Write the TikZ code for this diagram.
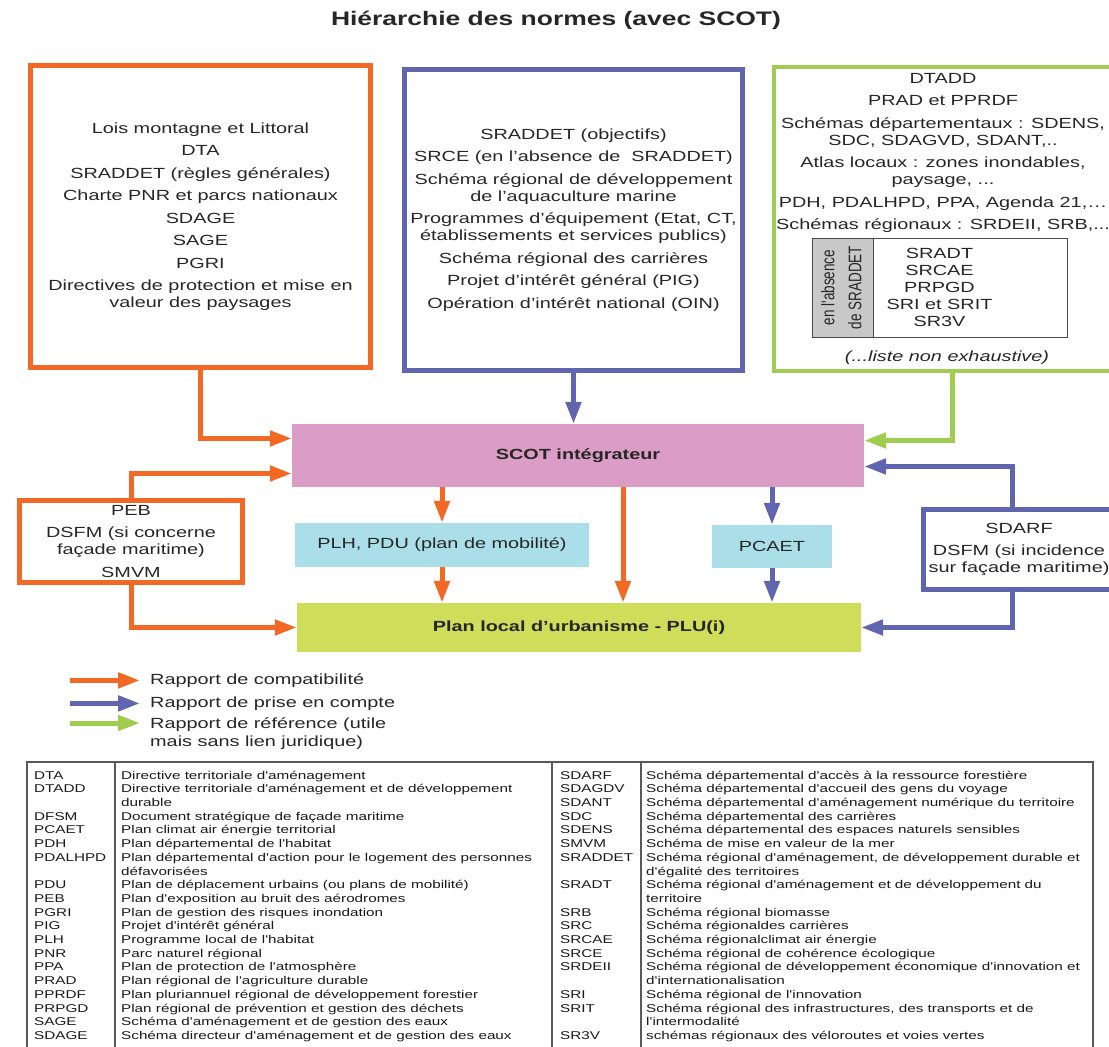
\documentclass[tikz,border=0pt]{standalone}
\usepackage{fontspec}
\setmainfont[FakeStretch=1.35]{Liberation Sans}
\newfontfamily\tabfont[FakeStretch=1.35,Ligatures=TeXOff]{Liberation Sans}
\newfontfamily\rotfont[Ligatures=TeXOff]{Liberation Sans}
\usetikzlibrary{arrows.meta,positioning}

\definecolor{orng}{RGB}{241,105,37}
\definecolor{blu}{RGB}{97,101,176}
\definecolor{grn}{RGB}{160,204,80}
\definecolor{scotpink}{RGB}{219,157,198}
\definecolor{plhblue}{RGB}{170,222,233}
\definecolor{plugreen}{RGB}{206,221,90}
\definecolor{txt}{RGB}{38,38,38}
\definecolor{colgray}{RGB}{200,200,200}

\tikzset{
  boxtext/.style={align=center, text=txt, inner sep=0pt, font=\fontsize{14.7}{17}\selectfont},
  normbox/.style={boxtext, draw=#1, line width=5pt, minimum width=340pt, minimum height=302pt},
  fillbox/.style={boxtext, fill=#1},
  tabtext/.style={inner sep=0pt, text=black!90, font=\tabfont\fontsize{11.3}{13.7}\selectfont},
  cmp/.style={draw=orng, line width=5pt, -{Triangle[length=22pt,width=15pt]}},
  pec/.style={cmp, draw=blu},
  refa/.style={cmp, draw=grn},
  tabline/.style={draw=black!65, line width=1.3pt}
}

\begin{document}
\begin{tikzpicture}[x=1pt,y=-1pt]
  \useasboundingbox (0,0) rectangle (1109,1047);
  \node[text=txt, font=\bfseries\fontsize{19.6}{23}\selectfont] (title) at (556,20) {Hiérarchie des normes (avec SCOT)};

  \node[normbox=orng] (lois) at (200.5,216.5) {Lois montagne et Littoral\\[5.5pt] DTA\\[5.5pt] SRADDET (règles générales)\\[5.5pt] Charte PNR et parcs nationaux\\[5.5pt] SDAGE\\[5.5pt] SAGE\\[5.5pt] PGRI\\[5.5pt] Directives de protection et mise en\\ valeur des paysages};
  \node[normbox=blu, minimum width=338pt, minimum height=301pt] (srce) at (573.5,220) {SRADDET (objectifs)\\[5.5pt] SRCE (en l'absence de~~SRADDET)\\[5.5pt] Schéma régional de développement\\ de l'aquaculture marine\\[5.5pt] Programmes d'équipement (Etat, CT,\\ établissements et services publics)\\[5.5pt] Schéma régional des carrières\\[5.5pt] Projet d'intérêt général (PIG)\\[5.5pt] Opération d'intérêt national (OIN)};
  \node[normbox=grn, line width=4pt, minimum width=341pt, minimum height=304pt] (ref) at (944.5,219) {};
  \node[boxtext, anchor=north] (reflist) at (943,72.7) {DTADD\\[5.5pt] PRAD et PPRDF\\[5.5pt] Schémas départementaux : SDENS,\\ SDC, SDAGVD, SDANT,..\\[5.5pt] Atlas locaux : zones inondables,\\ paysage, ...\\[5.5pt] PDH, PDALHPD, PPA, Agenda 21,\ldots\\[5.5pt] Schémas régionaux : SRDEII, SRB,...};
  \node[boxtext, draw=black!70, line width=1pt, minimum width=255pt, minimum height=99pt] (lst) at (939.5,287.5) {SRADT\\SRCAE\\PRPGD\\SRI et SRIT\\SR3V};
  \node[fill=colgray, draw=black!70, line width=1pt, minimum width=61pt, minimum height=99pt, inner sep=0pt, anchor=north west, text=txt] (abs) at (lst.north west) {\rotatebox{90}{\scalebox{1}[1.35]{\rotfont\fontsize{13.5}{20}\selectfont\begin{tabular}{@{}c@{}}en l'absence\\de SRADDET\end{tabular}}}};
  \node[boxtext, font=\itshape\fontsize{14.7}{17}\selectfont] (nonex) at (947,358) {(...liste non exhaustive)};

  \node[fillbox=scotpink, minimum width=572pt, minimum height=63pt, font=\bfseries\fontsize{14.7}{17}\selectfont] (scot) at (578,455.5) {SCOT intégrateur};
  \node[fillbox=plhblue, minimum width=294pt, minimum height=44pt] (plh) at (442,545) {PLH, PDU (plan de mobilité)};
  \node[fillbox=plhblue, minimum width=120pt, minimum height=43pt] (pcaet) at (772,546.5) {PCAET};
  \node[fillbox=plugreen, minimum width=564pt, minimum height=49pt, font=\bfseries\fontsize{14.7}{17}\selectfont] (plu) at (579,627.5) {Plan local d'urbanisme - PLU(i)};
  \node[normbox=orng, minimum width=223pt, minimum height=82pt] (peb) at (131,541.5) {PEB\\[5.5pt] DSFM (si concerne\\ façade maritime)\\[5.5pt] SMVM};
  \node[normbox=blu, minimum width=191pt, minimum height=80pt] (sdarf) at (1019,549.5) {SDARF\\[5pt] DSFM (si incidence\\ sur façade maritime)};

  \coordinate (mid) at ([xshift=45pt]scot.south);
  \draw[cmp] (lois.south) |- ([yshift=17pt]scot.west);
  \draw[pec] (srce.south) -- (srce.south |- scot.north);
  \draw[refa] ([xshift=8pt]ref.south) |- ([yshift=15pt]scot.east);
  \draw[cmp] (peb.north) |- ([yshift=-18pt]scot.west);
  \draw[cmp] (peb.south) |- (plu.west);
  \draw[pec] ([xshift=-7pt]sdarf.north) |- ([yshift=-11pt]scot.east);
  \draw[pec] ([xshift=-7pt]sdarf.south) |- (plu.east);
  \draw[cmp] (plh.north |- scot.south) -- (plh.north);
  \draw[cmp] (plh.south) -- (plh.south |- plu.north);
  \draw[cmp] (mid) -- (mid |- plu.north);
  \draw[pec] (pcaet.north |- scot.south) -- (pcaet.north);
  \draw[pec] (pcaet.south) -- (pcaet.south |- plu.north);

  \node[boxtext, anchor=west] (leg1) at (150,680.4) {Rapport de compatibilité};
  \node[boxtext, below=23pt of leg1.west, anchor=west] (leg2) {Rapport de prise en compte};
  \node[boxtext, below=37pt of leg1.west, anchor=north west, align=left, font=\fontsize{14.7}{18.5}\selectfont] (leg3) {Rapport de référence (utile\\mais sans lien juridique)};
  \draw[cmp] ([xshift=-80pt]leg1.west) -- ([xshift=-10pt]leg1.west);
  \draw[pec] ([xshift=-80pt]leg2.west) -- ([xshift=-10pt]leg2.west);
  \draw[refa] ([xshift=-80pt,yshift=-5.6pt]leg3.north west) -- ([xshift=-10pt,yshift=-5.6pt]leg3.north west);

  \draw[tabline] (27,762) rectangle (1093,1052);
  \draw[tabline] (115,762) -- (115,1052);
  \draw[tabline] (552,762) -- (552,1052);
  \draw[tabline] (641,762) -- (641,1052);
  \node[tabtext, anchor=north west] (tabl) at (34,769.3) {\begin{tabular}{@{}p{87pt}@{}l@{}}
    DTA & Directive territoriale d'aménagement\\
    DTADD & Directive territoriale d'aménagement et de développement\\
    & durable\\
    DFSM & Document stratégique de façade maritime\\
    PCAET & Plan climat air énergie territorial\\
    PDH & Plan départemental de l'habitat\\
    PDALHPD & Plan départemental d'action pour le logement des personnes\\
    & défavorisées\\
    PDU & Plan de déplacement urbains (ou plans de mobilité)\\
    PEB & Plan d'exposition au bruit des aérodromes\\
    PGRI & Plan de gestion des risques inondation\\
    PIG & Projet d'intérêt général\\
    PLH & Programme local de l'habitat\\
    PNR & Parc naturel régional\\
    PPA & Plan de protection de l'atmosphère\\
    PRAD & Plan régional de l'agriculture durable\\
    PPRDF & Plan pluriannuel régional de développement forestier\\
    PRPGD & Plan régional de prévention et gestion des déchets\\
    SAGE & Schéma d'aménagement et de gestion des eaux\\
    SDAGE & Schéma directeur d'aménagement et de gestion des eaux
  \end{tabular}};
  \node[tabtext, anchor=north west] (tabr) at (560,769.3) {\begin{tabular}{@{}p{86pt}@{}l@{}}
    SDARF & Schéma départemental d'accès à la ressource forestière\\
    SDAGDV & Schéma départemental d'accueil des gens du voyage\\
    SDANT & Schéma départemental d'aménagement numérique du territoire\\
    SDC & Schéma départemental des carrières\\
    SDENS & Schéma départemental des espaces naturels sensibles\\
    SMVM & Schéma de mise en valeur de la mer\\
    SRADDET & Schéma régional d'aménagement, de développement durable et\\
    & d'égalité des territoires\\
    SRADT & Schéma régional d'aménagement et de développement du\\
    & territoire\\
    SRB & Schéma régional biomasse\\
    SRC & Schéma régionaldes carrières\\
    SRCAE & Schéma régionalclimat air énergie\\
    SRCE & Schéma régional de cohérence écologique\\
    SRDEII & Schéma régional de développement économique d'innovation et\\
    & d'internationalisation\\
    SRI & Schéma régional de l'innovation\\
    SRIT & Schéma régional des infrastructures, des transports et de\\
    & l'intermodalité\\
    SR3V & schémas régionaux des véloroutes et voies vertes
  \end{tabular}};
\end{tikzpicture}
\end{document}
